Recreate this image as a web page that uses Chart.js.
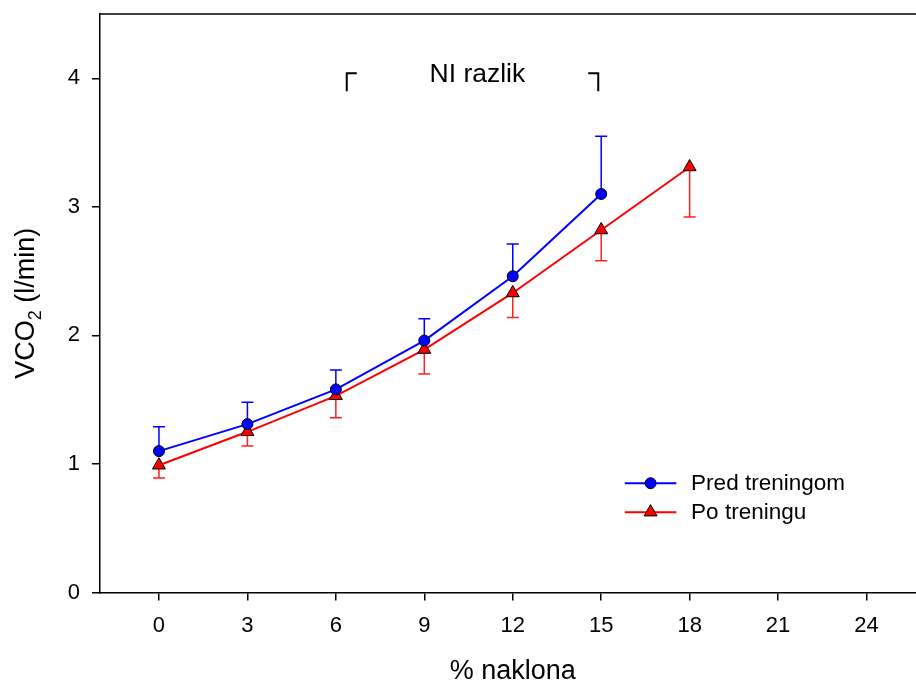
<!DOCTYPE html>
<html>
<head>
<meta charset="utf-8">
<script src="https://cdn.jsdelivr.net/npm/chart.js@4.4.1/dist/chart.umd.min.js"></script>
<style>
  html, body { margin: 0; padding: 0; background: #fff; overflow: hidden; }
  #wrap { width: 916px; height: 687px; overflow: hidden; }
</style>
</head>
<body>
<div id="wrap"><canvas id="chart" width="934" height="687"></canvas></div>
<script>
// % naklona (slope) and VCO2 mean / SD
const slope = [0, 3, 6, 9, 12, 15, 18];
const xTicks = [0, 3, 6, 9, 12, 15, 18, 21, 24];
const yTicks = [0, 1, 2, 3, 4];
const predMean = [1.10, 1.31, 1.58, 1.96, 2.46, 3.10];
const predSD   = [0.19, 0.17, 0.15, 0.17, 0.25, 0.45];
const poMean   = [0.99, 1.25, 1.53, 1.89, 2.33, 2.82, 3.31];
const poSD     = [0.10, 0.11, 0.17, 0.19, 0.19, 0.24, 0.39];

const FONT = "'Liberation Sans', Arial, sans-serif";

const pts = (xs, ys) => ys.map((y, i) => ({ x: xs[i], y: y }));

// SD whiskers: pred goes up, po goes down
const errorBars = {
    id: 'errorBars',
    beforeDatasetsDraw(chart) {
        const { ctx, scales: { x, y } } = chart;
        const sets = [
            { mean: predMean, sd: predSD, dir: 1, color: '#0000ff' },
            { mean: poMean, sd: poSD, dir: -1, color: '#ff2020' }
        ];
        ctx.save();
        ctx.lineWidth = 1.5;
        sets.forEach(s => {
            ctx.strokeStyle = s.color;
            s.mean.forEach((m, i) => {
                const px = x.getPixelForValue(slope[i]);
                const p0 = y.getPixelForValue(m);
                const p1 = y.getPixelForValue(m + s.dir * s.sd[i]);
                ctx.beginPath();
                ctx.moveTo(px, p0); ctx.lineTo(px, p1);
                ctx.moveTo(px - 6, p1); ctx.lineTo(px + 6, p1);
                ctx.stroke();
            });
        });
        ctx.restore();
    }
};

const decorations = {
    id: 'decorations',
    afterDraw(chart) {
        const { ctx, chartArea: a, scales: { x, y } } = chart;
        ctx.save();
        // top frame line
        ctx.strokeStyle = '#000';
        ctx.lineWidth = 1.5;
        ctx.beginPath();
        ctx.moveTo(a.left, a.top); ctx.lineTo(a.right, a.top); ctx.lineTo(a.right, a.bottom);
        ctx.stroke();

        // "NI razlik" brackets
        const top = y.getPixelForValue(4.04), bot = y.getPixelForValue(3.9);
        const lx = x.getPixelForValue(6.37), rx = x.getPixelForValue(14.9);
        ctx.lineWidth = 2;
        ctx.beginPath();
        ctx.moveTo(lx, bot); ctx.lineTo(lx, top); ctx.lineTo(lx + 10, top);
        ctx.moveTo(rx - 10, top); ctx.lineTo(rx, top); ctx.lineTo(rx, bot);
        ctx.stroke();
        ctx.fillStyle = '#000';
        ctx.font = '26.5px ' + FONT;
        ctx.textAlign = 'center';
        ctx.textBaseline = 'alphabetic';
        ctx.fillText('NI razlik', x.getPixelForValue(10.8), y.getPixelForValue(3.97));

        // legend
        const items = [
            { label: 'Pred treningom', color: '#0000ff', style: 'circle', r: 5.5, yv: 0.85 },
            { label: 'Po treningu', color: '#ff0000', style: 'triangle', r: 7.5, yv: 0.625 }
        ];
        ctx.textAlign = 'left';
        ctx.textBaseline = 'middle';
        ctx.font = '22.5px ' + FONT;
        items.forEach(it => {
            const ly = y.getPixelForValue(it.yv);
            const x0 = x.getPixelForValue(15.8), x1 = x.getPixelForValue(17.55);
            ctx.strokeStyle = it.color;
            ctx.lineWidth = 2;
            ctx.beginPath(); ctx.moveTo(x0, ly); ctx.lineTo(x1, ly); ctx.stroke();
            ctx.fillStyle = it.color;
            ctx.strokeStyle = '#000';
            ctx.lineWidth = 1;
            Chart.helpers.drawPoint(ctx, { pointStyle: it.style, radius: it.r, rotation: 0, borderWidth: 1 }, (x0 + x1) / 2, ly);
            ctx.fillStyle = '#000';
            ctx.fillText(it.label, x.getPixelForValue(18.05), ly + 1);
        });

        // axis titles
        ctx.font = '27px ' + FONT;
        ctx.textAlign = 'center';
        ctx.textBaseline = 'middle';
        ctx.fillText('% naklona', (a.left + a.right) / 2, 672);

        ctx.translate(27, (a.top + a.bottom) / 2);
        ctx.rotate(-Math.PI / 2);
        const big = '27px ' + FONT, small = '18px ' + FONT;
        ctx.font = big;
        const w1 = ctx.measureText('VCO').width;
        const w3 = ctx.measureText(' (l/min)').width;
        ctx.font = small;
        const w2 = ctx.measureText('2').width;
        let cx = -(w1 + w2 + w3) / 2;
        ctx.textAlign = 'left';
        ctx.font = big;
        ctx.fillText('VCO', cx, 0); cx += w1;
        ctx.font = small;
        ctx.fillText('2', cx, 9); cx += w2;
        ctx.font = big;
        ctx.fillText(' (l/min)', cx, 0);
        ctx.restore();
    }
};

new Chart(document.getElementById('chart'), {
    type: 'line',
    data: {
        datasets: [
            {
                label: 'Pred treningom',
                data: pts(slope, predMean),
                borderColor: '#0000ff',
                backgroundColor: '#0000ff',
                borderWidth: 2,
                pointStyle: 'circle',
                pointRadius: 5.5,
                pointBorderColor: '#000',
                pointBorderWidth: 1,
                tension: 0
            },
            {
                label: 'Po treningu',
                data: pts(slope, poMean),
                borderColor: '#ff0000',
                backgroundColor: '#ff0000',
                borderWidth: 2,
                pointStyle: 'triangle',
                pointRadius: 7.5,
                pointBorderColor: '#000',
                pointBorderWidth: 1,
                tension: 0
            }
        ]
    },
    options: {
        responsive: false,
        animation: false,
        devicePixelRatio: 1,
        layout: { padding: { top: 14, right: 1, left: 0, bottom: 0 } },
        plugins: { legend: { display: false }, tooltip: { enabled: false } },
        scales: {
            x: {
                type: 'linear',
                min: -2, max: 26,
                afterFit: s => { s.height = 94.5; s.paddingLeft = 0; s.paddingRight = 0; },
                afterBuildTicks: s => { s.ticks = xTicks.map(v => ({ value: v })); },
                grid: { drawOnChartArea: false, drawTicks: true, tickLength: 8, color: '#000', lineWidth: 1.5 },
                border: { display: true, color: '#000', width: 1.5 },
                ticks: { color: '#000', font: { family: FONT, size: 22 }, padding: 12, maxRotation: 0, autoSkip: false }
            },
            y: {
                min: 0, max: 4.5,
                afterFit: s => { s.width = 100; s.paddingTop = 0; s.paddingBottom = 0; },
                afterBuildTicks: s => { s.ticks = yTicks.map(v => ({ value: v })); },
                grid: { drawOnChartArea: false, drawTicks: true, tickLength: 8, color: '#000', lineWidth: 1.5 },
                border: { display: true, color: '#000', width: 1.5 },
                ticks: { color: '#000', font: { family: FONT, size: 22 }, padding: 12 }
            }
        }
    },
    plugins: [errorBars, decorations]
});
</script>
</body>
</html>
